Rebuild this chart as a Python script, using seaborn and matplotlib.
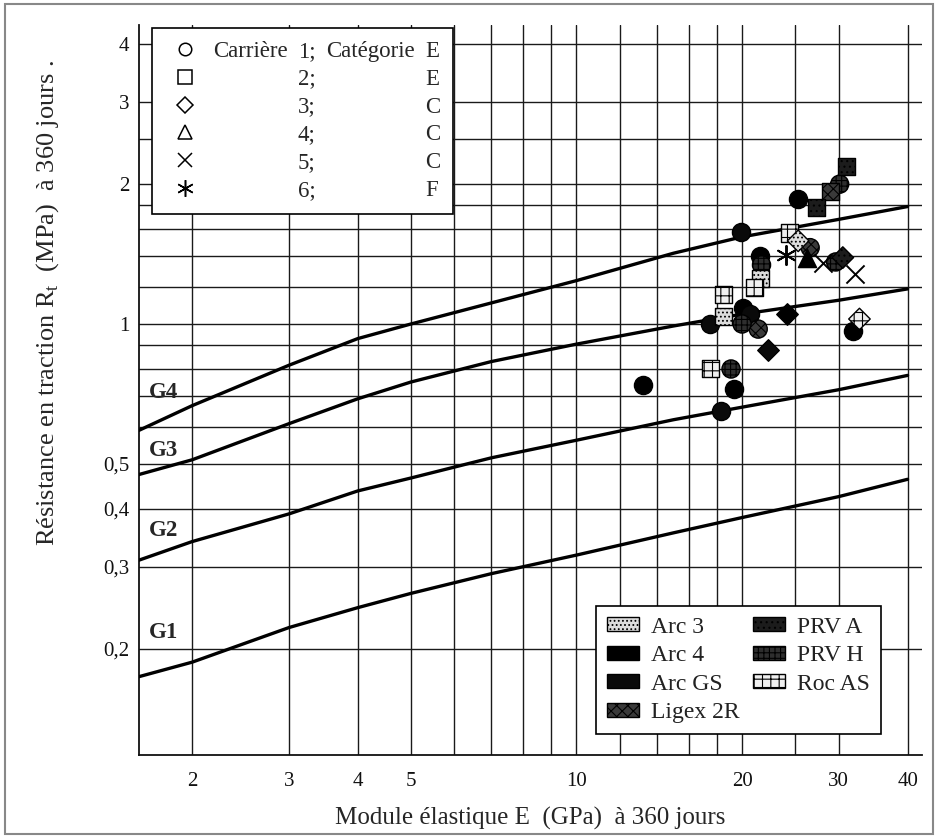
import matplotlib.pyplot as plt
import pandas as pd
import seaborn as sns
from matplotlib.lines import Line2D
from matplotlib.patches import Patch, Rectangle
from matplotlib.ticker import NullLocator

# Courbes limites des classes G1..G4 (lecture graphique)
E_courbe = [1.6, 2, 3, 4, 5, 7, 10, 15, 20, 30, 40]
G1 = [0.174, 0.187, 0.222, 0.245, 0.263, 0.29, 0.318, 0.355, 0.383, 0.425, 0.463]
G2 = [0.31, 0.34, 0.39, 0.437, 0.466, 0.515, 0.562, 0.622, 0.662, 0.722, 0.775]
G3 = [0.474, 0.51, 0.61, 0.69, 0.75, 0.83, 0.905, 0.99, 1.05, 1.125, 1.19]
G4 = [0.59, 0.667, 0.815, 0.93, 1.0, 1.11, 1.24, 1.42, 1.54, 1.68, 1.79]
noms_classes = ['G1', 'G2', 'G3', 'G4']
pos_etiquettes = [0.217, 0.36, 0.534, 0.711]

# Points de mesure : module E (GPa), Rt (MPa), carrière, matériau
E_points = [31.0, 30.1, 29.0, 27.3, 25.3, 19.9, 24.4, 25.3, 24.0, 26.6, 26.2, 28.1,
            30.5, 29.6, 32.1, 21.6, 21.7, 21.6, 21.1, 18.5, 18.5, 20.1, 20.7, 20.0,
            21.4, 17.5, 24.1, 22.3, 32.7, 31.8, 17.5, 19.1, 19.3, 18.3, 13.2]
Rt_points = [2.18, 2.0, 1.93, 1.78, 1.86, 1.58, 1.57, 1.51, 1.41, 1.46, 1.39, 1.35,
             1.39, 1.36, 1.28, 1.40, 1.34, 1.25, 1.20, 1.16, 1.04, 1.08, 1.05, 1.0,
             0.975, 1.0, 1.05, 0.88, 1.025, 0.966, 0.80, 0.80, 0.725, 0.65, 0.74]
carriere = [2, 1, 2, 2, 1, 1, 2, 3, 6, 1, 4, 5,
            3, 1, 5, 1, 1, 2, 2, 2, 2, 1, 1, 1,
            1, 1, 3, 3, 3, 1, 2, 1, 1, 1, 1]
materiau = ['PRV A', 'PRV H', 'Ligex 2R', 'PRV A', 'Arc 4', 'Arc GS', 'Roc AS', 'Arc 3',
            'Arc 3', 'Ligex 2R', 'Arc 4', 'Arc 3', 'PRV A', 'PRV H', 'Arc 3', 'Arc 4',
            'PRV H', 'Arc 3', 'Roc AS', 'Roc AS', 'Arc 3', 'Arc 4', 'Arc GS', 'PRV H',
            'Ligex 2R', 'Arc GS', 'Arc 4', 'Arc GS', 'Roc AS', 'Arc 4', 'Roc AS', 'PRV H',
            'Arc 4', 'Arc GS', 'Arc 4']

carrieres = [1, 2, 3, 4, 5, 6]
categories = ['E', 'E', 'C', 'C', 'C', 'F']
materiaux = ['Arc 3', 'Arc 4', 'Arc GS', 'Ligex 2R', 'PRV A', 'PRV H', 'Roc AS']

grille_x = [2, 3, 4, 5, 6, 7, 8, 9, 10, 12, 14, 16, 18, 20, 25, 30, 40]
etiq_x = ['2', '3', '4', '5', '', '', '', '', '10', '', '', '', '', '20', '', '30', '40']
grille_y = [0.2, 0.3, 0.4, 0.5, 0.6, 0.7, 0.8, 0.9, 1, 1.2, 1.4, 1.6, 1.8, 2, 2.5, 3, 4]
etiq_y = ['0,2', '0,3', '0,4', '0,5', '', '', '', '', '1', '', '', '', '', '2', '', '3', '4']

asterisque = (6, 2, 0)
marqueurs = {1: 'o', 2: 's', 3: 'D', 4: '^', 5: 'x', 6: asterisque}
tailles = {1: 170, 2: 150, 3: 120, 4: 170, 5: 170, 6: 190}
taille_leg = {1: 9, 2: 10, 3: 8, 4: 10, 5: 10, 6: 12}
remplissage = {'Arc 3': '#dcdcdc', 'Arc 4': '#000000', 'Arc GS': '#0a0a0a',
               'Ligex 2R': '#3a3a3a', 'PRV A': '#1c1c1c', 'PRV H': '#2e2e2e',
               'Roc AS': '#f0f0f0'}
hachures = {'Arc 3': '....', 'Arc 4': None, 'Arc GS': None, 'Ligex 2R': 'xxx',
            'PRV A': '...', 'PRV H': '+++', 'Roc AS': '++'}

sns.set_theme(style='white')
plt.rcParams['font.family'] = ['Liberation Serif', 'DejaVu Serif']
plt.rcParams['mathtext.fontset'] = 'custom'
plt.rcParams['mathtext.rm'] = 'Liberation Serif'
plt.rcParams['hatch.linewidth'] = 0.8

fig = plt.figure(figsize=(9.38, 8.38), dpi=100)
ax = fig.add_axes([0.148, 0.099, 0.835, 0.871])
ax.set_xscale('log')
ax.set_yscale('log')

# courbes des classes
for nom, valeurs, y_lab in zip(noms_classes, [G1, G2, G3, G4], pos_etiquettes):
    sns.lineplot(x=E_courbe, y=valeurs, color='black', linewidth=2.4, ax=ax, zorder=3)
    ax.text(1.67, y_lab, nom, fontsize=16.5, fontweight='bold', ha='left', va='center')

# points de mesure
df = pd.DataFrame({'E': E_points, 'Rt': Rt_points, 'carriere': carriere, 'materiau': materiau})
for (car, mat), grp in df.groupby(['carriere', 'materiau']):
    m = marqueurs[car]
    if car in (5, 6):
        sns.scatterplot(data=grp, x='E', y='Rt', marker=m, color='black', s=tailles[car],
                        linewidth=1.4, ax=ax, legend=False, zorder=5)
    else:
        sns.scatterplot(data=grp, x='E', y='Rt', marker=m, color=remplissage[mat],
                        edgecolor='black', linewidth=1.0, hatch=hachures[mat],
                        s=tailles[car], ax=ax, legend=False, zorder=5)

ax.set_xlim(1.6, 42.5)
ax.set_ylim(0.118, 4.4)
ax.set_xticks(grille_x)
ax.set_xticklabels(etiq_x)
ax.set_yticks(grille_y)
ax.set_yticklabels(etiq_y)
ax.xaxis.set_minor_locator(NullLocator())
ax.yaxis.set_minor_locator(NullLocator())
ax.grid(True, which='major', color='#1a1a1a', linewidth=1.0)
ax.set_axisbelow(True)
ax.tick_params(axis='x', length=0, pad=12, labelsize=15, colors='#111')
ax.tick_params(axis='y', direction='out', length=4, width=1.0, pad=3, labelsize=15, colors='#111')
for cote in ['top', 'right']:
    ax.spines[cote].set_visible(False)
for cote in ['left', 'bottom']:
    ax.spines[cote].set_color('#111')
    ax.spines[cote].set_linewidth(1.3)

ax.set_xlabel('Module élastique E  (GPa)  à 360 jours', fontsize=18, labelpad=12)
ax.set_ylabel('Résistance en traction R$_\\mathrm{t}$  (MPa)  à 360 jours .', fontsize=19)
ax.yaxis.set_label_coords(-0.1, 0.62)

# légende des carrières (tableau à 4 colonnes)
vide = Line2D([], [], linestyle='none')
poignees = [Line2D([], [], linestyle='none', marker=marqueurs[c], markersize=taille_leg[c],
                   markerfacecolor='white', markeredgecolor='black',
                   markeredgewidth=1.1, color='black') for c in carrieres]
labels_col1 = ['Carrière'] + [''] * 5
labels_col2 = [f'{c};' for c in carrieres]
labels_col3 = ['Catégorie'] + [''] * 5
handles = poignees + [vide] * 18
labels = labels_col1 + labels_col2 + labels_col3 + categories
leg1 = ax.legend(handles, labels, ncol=4, loc='upper left', bbox_to_anchor=(0.017, 0.996),
                 borderaxespad=0, fontsize=16.5, frameon=True, fancybox=False,
                 edgecolor='black', framealpha=1, borderpad=0.55, handlelength=1.8,
                 handletextpad=0.3, columnspacing=-1.65, labelspacing=0.3)
leg1.get_frame().set_linewidth(1.2)
ax.add_artist(leg1)

# légende des matériaux
patches = [Patch(facecolor=remplissage[m], edgecolor='black', hatch=hachures[m], linewidth=1.0)
           for m in materiaux]
leg2 = ax.legend(patches, materiaux, ncol=2, loc='lower right', bbox_to_anchor=(0.947, 0.029),
                 borderaxespad=0, fontsize=17, frameon=True, fancybox=False,
                 edgecolor='black', framealpha=1, borderpad=0.45, handlelength=1.35,
                 handleheight=0.55, handletextpad=0.5, columnspacing=0.6, labelspacing=0.32)
leg2.get_frame().set_linewidth(1.2)
for t in leg2.get_texts():
    t.set_color('#222')

fig.patches.append(Rectangle((0.005, 0.005), 0.99, 0.99, transform=fig.transFigure,
                             fill=False, edgecolor='#888', linewidth=1.5))

fig.savefig('out.png', dpi=100)
